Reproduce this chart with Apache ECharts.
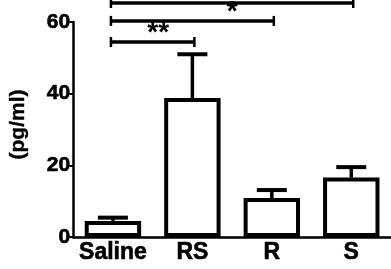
<!DOCTYPE html>
<html>
<head>
<meta charset="utf-8">
<script src="https://cdn.jsdelivr.net/npm/echarts@6/dist/echarts.min.js"></script>
<style>
html,body{margin:0;padding:0;background:#fff;}
#chart{width:391px;height:269px;}
</style>
</head>
<body>
<div id="chart"></div>
<script>
// groups and values (pg/ml)
var categories = ['Saline', 'RS', 'R', 'S'];
var means = [4.5, 38.8, 10.9, 16.6];
var sem = [0.9, 12.2, 2.2, 2.9];
var yTicks = [0, 20, 40, 60];
// significance brackets: [from group, to group, height, star position, stars]
var brackets = [
    [0, 1, 54.4, 0.57, '**'],
    [0, 2, 60.3, 1.5, '*'],
    [0, 3, 65.3, 2.5, '*']
];

var font = '"Liberation Sans", Arial, sans-serif';
var myChart = echarts.init(document.getElementById('chart'));

var errData = [];
for (var i = 0; i < categories.length; i++) {
    errData.push([i, means[i], means[i] + sem[i]]);
}

option = {
    animation: false,
    grid: {left: 70, right: -3, top: 22, bottom: 32},
    xAxis: {
        type: 'category',
        data: categories,
        axisLine: {lineStyle: {color: '#000', width: 2.5}},
        axisTick: {alignWithLabel: true, length: 4, lineStyle: {color: '#000', width: 2}},
        axisLabel: {color: '#000', fontFamily: font, fontWeight: 'bold', fontSize: 23, margin: 4,
                    interval: 0, textBorderColor: '#000', textBorderWidth: 0.6}
    },
    yAxis: {
        type: 'value',
        min: yTicks[0],
        max: yTicks[yTicks.length - 1],
        interval: 20,
        name: '(pg/ml)',
        nameLocation: 'middle',
        nameRotate: 90,
        nameGap: 44,
        nameTextStyle: {color: '#000', fontFamily: font, fontWeight: 'bold', fontSize: 21,
                        textBorderColor: '#000', textBorderWidth: 0.4, padding: [0, 0, 0, 10]},
        axisLine: {show: true, lineStyle: {color: '#000', width: 2.5}},
        axisTick: {show: true, length: 4, lineStyle: {color: '#000', width: 2}},
        splitLine: {show: false},
        axisLabel: {color: '#000', fontFamily: font, fontWeight: 'bold', fontSize: 21, margin: 3,
                    textBorderColor: '#000', textBorderWidth: 0.6}
    },
    series: [
        {
            type: 'bar',
            data: means,
            barWidth: '71%',
            itemStyle: {color: '#fff', borderColor: '#000', borderWidth: 4}
        },
        {
            // upper error whisker
            type: 'custom',
            data: errData,
            z: 3,
            renderItem: function (params, api) {
                var base = api.coord([api.value(0), api.value(1)]);
                var top = api.coord([api.value(0), api.value(2)]);
                var half = 15;
                return {
                    type: 'group',
                    children: [
                        {type: 'line', shape: {x1: base[0], y1: base[1], x2: top[0], y2: top[1]},
                         style: {stroke: '#000', lineWidth: 3.5}},
                        {type: 'line', shape: {x1: top[0] - half, y1: top[1], x2: top[0] + half, y2: top[1]},
                         style: {stroke: '#000', lineWidth: 4}}
                    ]
                };
            }
        },
        {
            // significance brackets
            type: 'custom',
            data: brackets,
            clip: false,
            z: 4,
            renderItem: function (params, api) {
                var a = api.coord([api.value(0), api.value(2)]);
                var b = api.coord([api.value(1), api.value(2)]);
                // star sits between two groups: interpolate between their centres
                var sp = api.value(3);
                var lo = Math.floor(sp);
                var p0 = api.coord([lo, api.value(2)]);
                var p1 = api.coord([lo + 1, api.value(2)]);
                var sx = p0[0] + (p1[0] - p0[0]) * (sp - lo);
                var a0 = a[0] - 2, b0 = b[0] + 2;
                return {
                    type: 'group',
                    children: [
                        {type: 'line', shape: {x1: a0, y1: a[1], x2: b0, y2: b[1]},
                         style: {stroke: '#000', lineWidth: 3.5}},
                        {type: 'line', shape: {x1: a0, y1: a[1] - 5, x2: a0, y2: a[1] + 5},
                         style: {stroke: '#000', lineWidth: 2.5}},
                        {type: 'line', shape: {x1: b0, y1: b[1] - 5, x2: b0, y2: b[1] + 5},
                         style: {stroke: '#000', lineWidth: 2.5}},
                        {type: 'text', x: sx, y: a[1] + 5,
                         style: {text: brackets[params.dataIndex][4], fill: '#000',
                                 font: 'bold 28px ' + font, align: 'center', verticalAlign: 'bottom'}}
                    ]
                };
            }
        }
    ]
};
myChart.setOption(option);
</script>
</body>
</html>
